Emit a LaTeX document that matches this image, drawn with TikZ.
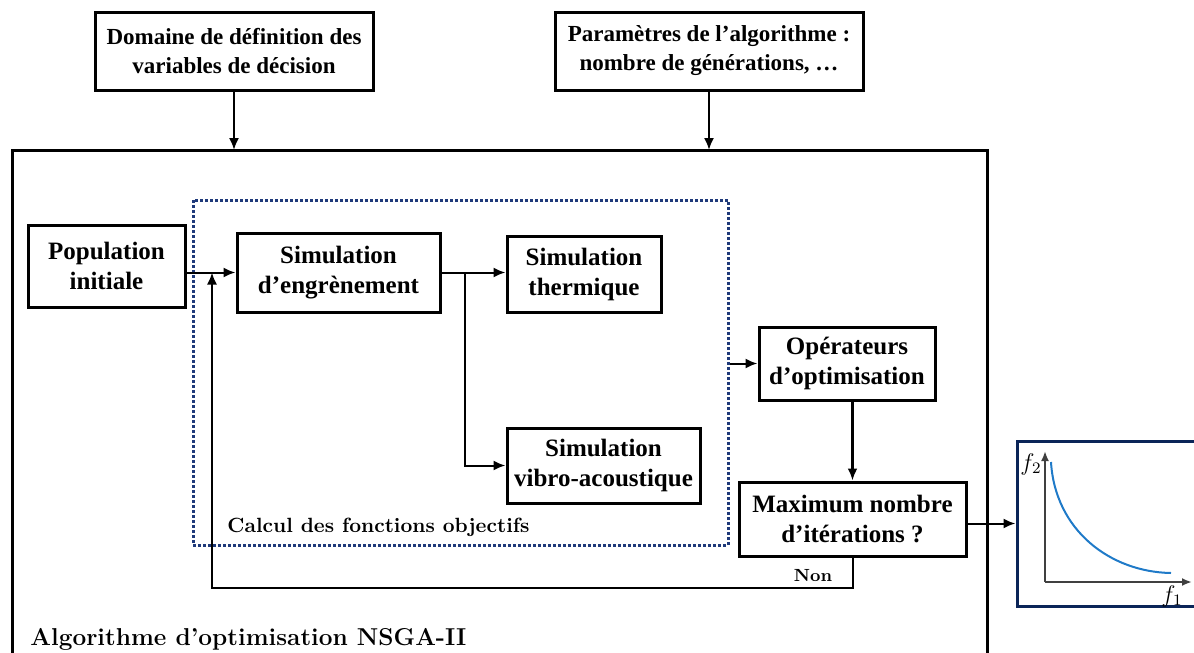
\documentclass[tikz,border=0pt]{standalone}
\usepackage{fontspec}
\newfontfamily\timesfont{Liberation Serif}
\usetikzlibrary{arrows.meta,positioning}
\definecolor{bleupoint}{HTML}{1F3A7A}
\definecolor{bleunuit}{HTML}{0B2558}
\definecolor{bleucourbe}{HTML}{1F7AC8}
\definecolor{gris}{HTML}{404040}
\tikzset{
	bloc/.style={rectangle, draw=black, line width=1.5pt, align=center, inner sep=2pt, font=\timesfont\bfseries\fontsize{12.5}{15}\selectfont},
	blochaut/.style={bloc, font=\timesfont\bfseries\fontsize{11.5}{14.5}\selectfont},
	fleche/.style={-{Latex[length=6pt,width=5pt]}, line width=1pt},
	axe/.style={-{Latex[length=5pt,width=4pt]}, line width=1pt, draw=gris},
	legende/.style={font=\bfseries\fontsize{12.2}{14}\selectfont, inner sep=0pt},
	moyen/.style={font=\bfseries\fontsize{10.3}{12}\selectfont, inner sep=0pt},
	petit/.style={font=\bfseries\fontsize{8.8}{10}\selectfont, inner sep=0pt}
}
\begin{document}
\begin{tikzpicture}[x=0.5pt, y=-0.5pt]
	\useasboundingbox (0,0) rectangle (1194,653);
	
	% entrees
	\node[blochaut, minimum width=139pt, minimum height=39pt] (domaine) at (234,51) {Domaine de définition des\\variables de décision};
	\node[blochaut, minimum width=154pt, minimum height=39pt] (parametres) at (709,51) {Paramètres de l’algorithme :\\nombre de générations, \dots};
	
	% cadre NSGA-II
	\coordinate (cadre) at (12,150);
	\draw[line width=1.5pt] (12,680) -- (cadre) -- (987,150) -- (987,680);
	\node[legende, anchor=base west] (nsga) at (30,645) {Algorithme d’optimisation NSGA-II};
	\draw[fleche] (domaine.south) -- (domaine.south |- cadre);
	\draw[fleche] (parametres.south) -- (parametres.south |- cadre);
	
	% calcul des fonctions objectifs
	\node[draw=bleupoint, line width=1.5pt, dash pattern=on 1.5pt off 1pt, minimum width=267.5pt, minimum height=172.5pt] (calcul) at (460.5,372.5) {};
	\node[moyen, anchor=base west] (calcullabel) at (227,532) {Calcul des fonctions objectifs};
	
	\node[bloc, minimum width=78.5pt, minimum height=41pt] (population) at (106.5,266) {Population\\initiale};
	\node[bloc, minimum width=101.5pt, minimum height=39.5pt] (engrenement) at (338.5,272.5) {Simulation\\d’engrènement};
	\node[bloc, minimum width=77pt, minimum height=38pt] (thermique) at (584,274) {Simulation\\thermique};
	\node[bloc, minimum width=96.5pt, minimum height=37.5pt] (vibro) at (603.5,465.5) {Simulation\\vibro-acoustique};
	\node[bloc, minimum width=88pt, minimum height=36.5pt] (operateurs) at (847,363.5) {Opérateurs\\d’optimisation};
	\node[bloc, minimum width=113.5pt, minimum height=37pt] (maximum) at (852.5,519) {Maximum nombre\\d’itérations ?};
	
	\draw[fleche] (population.east |- engrenement.west) -- (engrenement.west);
	\draw[line width=1pt] (engrenement.east) -- ++(23,0) coordinate (branche);
	\draw[fleche] (branche) -- (thermique.west |- branche);
	\draw[fleche] (branche) |- (vibro.west);
	\draw[fleche] (calcul.east |- operateurs.west) -- (operateurs.west);
	\draw[fleche, line width=1.5pt] (operateurs.south -| maximum.north) -- (maximum.north);
	
	% boucle
	\coordinate (retour) at (212,588);
	\draw[fleche] (maximum.south) |- (retour) -- (retour |- engrenement.west);
	\node[petit] (non) at (813,576) {Non};
	
	% front de Pareto
	\node[draw=bleunuit, line width=1.5pt, minimum width=91.5pt, minimum height=82.5pt] (front) at (1108.5,523.5) {};
	\draw[fleche] (maximum.east |- front.west) -- (front.west);
	\coordinate (origine) at (1045,582);
	\draw[axe] (origine) -- (1045,451);
	\draw[axe] (origine) -- (1192,582);
	\draw[bleucourbe, line width=1pt] (1051,462) .. controls (1055,530) and (1110,572) .. (1171,573);
	\node[font=\large] (f2) at (1031,464) {$f_2$};
	\node[font=\large] (f1) at (1172,596) {$f_1$};
\end{tikzpicture}
\end{document}
